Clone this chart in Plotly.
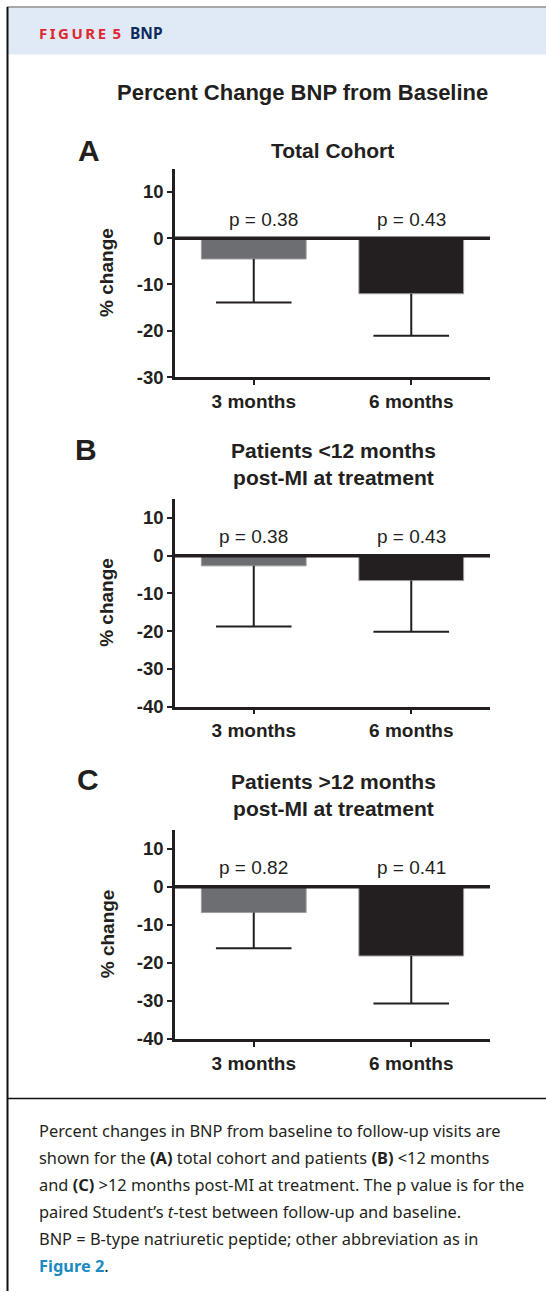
import plotly.graph_objects as go

# ---------------- data ----------------
categories = ["3 months", "6 months"]

panel_letters = ["A", "B", "C"]
panel_titles = ["Total Cohort",
                "Patients &lt;12 months<br>post-MI at treatment",
                "Patients &gt;12 months<br>post-MI at treatment"]

mean_change_A = [-4.5, -12.0]
sem_A = [9.4, 9.1]
p_A = ["p = 0.38", "p = 0.43"]

mean_change_B = [-2.7, -6.6]
sem_B = [16.1, 13.6]
p_B = ["p = 0.38", "p = 0.43"]

mean_change_C = [-6.8, -18.2]
sem_C = [9.4, 12.5]
p_C = ["p = 0.82", "p = 0.41"]

yranges = [[-30, 15], [-40, 15], [-40, 15]]
tickvals_A = [-30, -20, -10, 0, 10]
ticktext_A = ["-30", "-20", "-10", "0", "10"]
tickvals_BC = [-40, -30, -20, -10, 0, 10]
ticktext_BC = ["-40", "-30", "-20", "-10", "0", "10"]

bar_colors = ["#6d6e71", "#231f20"]

# ---------------- layout helpers ----------------
W, H = 546, 1301
def xp(px):
    return px / W
def yp(py):
    return 1 - py / H

INK = "#231f20"
FONT = "Liberation Sans, Arial, Helvetica, sans-serif"
CAPFONT = "Noto Sans, Open Sans, sans-serif"

panel_px = [(170, 380), (503, 712), (836, 1047)]
x_dom = [xp(175), xp(490)]

means = [mean_change_A, mean_change_B, mean_change_C]
sems = [sem_A, sem_B, sem_C]
pvals = [p_A, p_B, p_C]
tvals = [tickvals_A, tickvals_BC, tickvals_BC]
ttext = [ticktext_A, ticktext_BC, ticktext_BC]

fig = go.Figure()
annotations = []
shapes = []

for i in range(3):
    xa = "x" if i == 0 else f"x{i+1}"
    ya = "y" if i == 0 else f"y{i+1}"
    m = means[i]
    s = sems[i]
    fig.add_trace(go.Bar(
        x=categories, y=m, xaxis=xa, yaxis=ya,
        marker=dict(color=bar_colors, line=dict(color="#9c9c9c", width=1)),
        width=0.665, showlegend=False, hoverinfo="skip"))
    # whiskers: cap marker at the error end, stem drawn as error bar up to the bar end
    fig.add_trace(go.Scatter(
        x=categories, y=[a - b for a, b in zip(m, s)], xaxis=xa, yaxis=ya,
        mode="markers",
        marker=dict(symbol="line-ew", size=54, color=INK,
                    line=dict(color=INK, width=2)),
        error_y=dict(type="data", symmetric=False, array=s,
                     arrayminus=[0] * len(s), width=0, thickness=2, color=INK),
        showlegend=False, hoverinfo="skip"))

    y0, y1 = panel_px[i]
    xkey = "xaxis" if i == 0 else f"xaxis{i+1}"
    ykey = "yaxis" if i == 0 else f"yaxis{i+1}"
    fig.layout[xkey] = dict(
        domain=x_dom, anchor=ya, type="category", range=[-0.5, 1.5],
        showline=True, linewidth=2.5, linecolor=INK, mirror=False,
        ticks="outside", ticklen=5, tickwidth=2, tickcolor=INK,
        tickfont=dict(family=FONT, size=19, color=INK, weight="bold"),
        showgrid=False, zeroline=False, fixedrange=True)
    fig.layout[ykey] = dict(
        domain=[yp(y1), yp(y0)], anchor=xa, range=yranges[i],
        tickvals=tvals[i], ticktext=ttext[i],
        showline=True, linewidth=2.5, linecolor=INK,
        ticks="outside", ticklen=5, tickwidth=2, tickcolor=INK,
        tickfont=dict(family=FONT, size=18.5, color=INK, weight="bold"),
        showgrid=False, zeroline=False, fixedrange=True)

    # zero reference line
    shapes.append(dict(type="line", xref=f"{xa} domain", yref=ya,
                       x0=0, x1=1, y0=0, y1=0,
                       line=dict(color=INK, width=3.5), layer="above"))

    # p-values
    for j, cat in enumerate(categories):
        annotations.append(dict(
            x=cat, y=0, xref=xa, yref=ya, text=pvals[i][j], showarrow=False,
            xanchor="center", yanchor="middle", yshift=19,
            xshift=(10 if (i == 0 and j == 0) else 0),
            font=dict(family=FONT, size=19, color=INK)))

    # y-axis title
    annotations.append(dict(
        x=xp(107), y=yp((y0 + y1) / 2), xref="paper", yref="paper",
        text="<b>% change</b>", textangle=-90, showarrow=False,
        xanchor="center", yanchor="middle",
        font=dict(family=FONT, size=19, color=INK)))

# panel letters and titles
letter_pos = [(89, 152), (86, 453), (88, 786)]
title_pos = [(332, 152), (333, 468), (333, 801)]
for i in range(3):
    lx, ly = letter_pos[i]
    annotations.append(dict(
        x=xp(lx), y=yp(ly), xref="paper", yref="paper",
        text=f"<b>{panel_letters[i]}</b>", showarrow=False,
        xanchor="center", yanchor="middle",
        font=dict(family=FONT, size=30, color=INK)))
    tx, ty = title_pos[i]
    annotations.append(dict(
        x=xp(tx), y=yp(ty), xref="paper", yref="paper",
        text=f"<b>{panel_titles[i]}</b>", showarrow=False,
        xanchor="center", yanchor="middle", align="center",
        font=dict(family=FONT, size=21, color=INK)))

# main title
annotations.append(dict(
    x=xp(302), y=yp(93), xref="paper", yref="paper",
    text="<b>Percent Change BNP from Baseline</b>", showarrow=False,
    xanchor="center", yanchor="middle",
    font=dict(family=FONT, size=22, color=INK)))

# header band
shapes.append(dict(type="rect", xref="paper", yref="paper",
                   x0=xp(8), x1=1, y0=yp(55), y1=yp(8),
                   fillcolor="#dfeaf6", line=dict(width=0), layer="below"))
shapes.append(dict(type="line", xref="paper", yref="paper",
                   x0=xp(7), x1=1, y0=yp(7), y1=yp(7),
                   line=dict(color="#8a8a8a", width=1.5)))
shapes.append(dict(type="line", xref="paper", yref="paper",
                   x0=xp(7.5), x1=xp(7.5), y0=0, y1=yp(7),
                   line=dict(color="#111111", width=2)))
shapes.append(dict(type="line", xref="paper", yref="paper",
                   x0=xp(7), x1=1, y0=yp(1107), y1=yp(1107),
                   line=dict(color="#111111", width=1.5)))

SP = "\u2006"
annotations.append(dict(
    x=xp(37), y=yp(33), xref="paper", yref="paper",
    text="<b>" + SP.join("FIGURE") + SP + " 5</b>", showarrow=False,
    xanchor="left", yanchor="middle",
    font=dict(family=CAPFONT, size=15, color="#e0262f")))
annotations.append(dict(
    x=xp(128), y=yp(33), xref="paper", yref="paper",
    text="<b>BNP</b>", showarrow=False, xanchor="left", yanchor="middle",
    font=dict(family=CAPFONT, size=15.5, color="#0d2b5e")))

caption_lines = [
    "Percent changes in BNP from baseline to follow-up visits are",
    "shown for the <b>(A)</b> total cohort and patients <b>(B)</b> &lt;12 months",
    "and <b>(C)</b> &gt;12 months post-MI at treatment. The p value is for the",
    "paired Student’s <i>t</i>-test between follow-up and baseline.",
    "BNP = B-type natriuretic peptide; other abbreviation as in",
    "<b><span style='color:#1b8bbf'>Figure 2</span></b>.",
]
for k, line in enumerate(caption_lines):
    annotations.append(dict(
        x=xp(37), y=yp(1139 + 27.3 * k), xref="paper", yref="paper",
        text=line, showarrow=False, xanchor="left", yanchor="middle",
        font=dict(family=CAPFONT, size=16.4, color=INK)))

fig.update_layout(
    width=W, height=H, margin=dict(l=0, r=0, t=0, b=0),
    paper_bgcolor="white", plot_bgcolor="rgba(0,0,0,0)",
    bargap=0.33, annotations=annotations, shapes=shapes,
    showlegend=False)

fig.write_html("out.html", config={"displayModeBar": False},
               post_script="document.body.style.margin='0';document.body.style.overflow='hidden';")
